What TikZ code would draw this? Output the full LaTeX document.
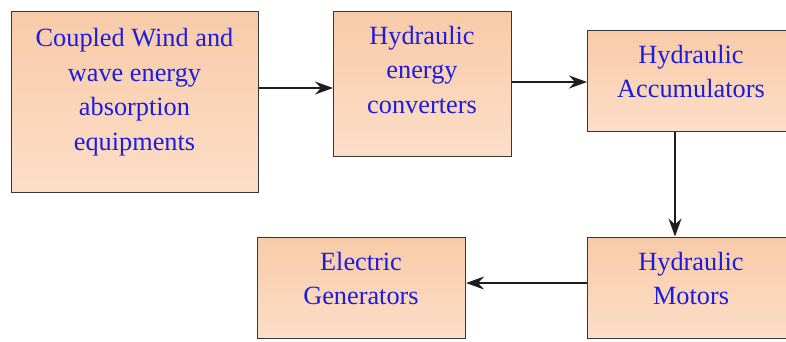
\documentclass[tikz,border=0pt]{standalone}
\usepackage{fontspec}
\setmainfont{Liberation Serif}
\usetikzlibrary{arrows.meta}
\definecolor{boxtop}{RGB}{248,203,168}
\definecolor{boxbot}{RGB}{252,222,200}
\definecolor{txtblue}{RGB}{28,28,225}
\definecolor{edge}{RGB}{55,55,55}
\tikzset{
  box/.style={rectangle, draw=edge, line width=1.1pt, top color=boxtop, bottom color=boxbot, inner sep=0pt, anchor=north west},
  txt/.style={align=center, text=txtblue, inner sep=0pt, anchor=base, font=\fontsize{26.3pt}{34.5pt}\selectfont},
  arr/.style={line width=1.6pt, draw={rgb,255:red,30;green,30;blue,30}, -{Stealth[length=18pt,width=13pt,inset=6pt]}}
}
\begin{document}
\begin{tikzpicture}[x=1pt,y=-1pt]
\useasboundingbox (0,0) rectangle (786,341);
\clip (0,0) rectangle (786,341);
\fill[white] (0,0) rectangle (786,341);
\node[box, minimum width=247pt, minimum height=181pt] (A) at (11,11) {};
\node[box, minimum width=178pt, minimum height=145pt] (B) at (333,11) {};
\node[box, minimum width=209pt, minimum height=101pt] (C) at (587,30) {};
\node[box, minimum width=209pt, minimum height=101.5pt] (D) at (587,236.5) {};
\node[box, minimum width=208pt, minimum height=101pt] (E) at (257,237) {};
\node[txt] (tA) at (134.5,150) {Coupled Wind and\\wave energy\\absorption\\equipments};
\node[txt] (tB) at (422,113) {Hydraulic\\energy\\converters};
\node[txt] (tC) at (691,97.5) {Hydraulic\\Accumulators};
\node[txt] (tD) at (691,304.5) {Hydraulic\\Motors};
\node[txt] (tE) at (361,304.5) {Electric\\Generators};
\draw[arr] (A.east |- 0,88) -- (B.west |- 0,88);
\draw[arr] (B.east |- 0,82) -- (C.west |- 0,82);
\draw[arr] (C.south -| 675,0) -- (D.north -| 675,0);
\draw[arr] (D.west |- 0,283) -- (E.east |- 0,283);
\end{tikzpicture}
\end{document}
